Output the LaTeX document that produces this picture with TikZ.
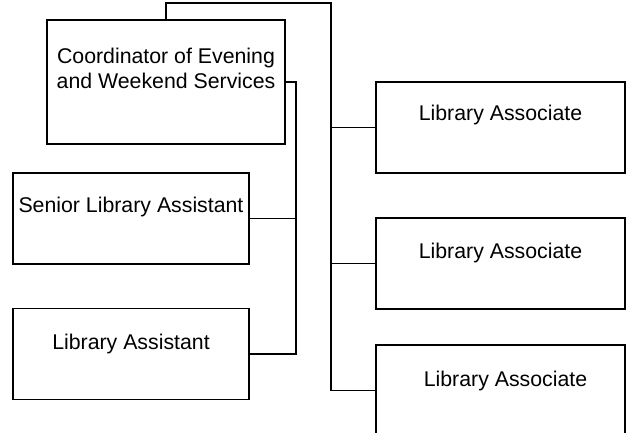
\documentclass[tikz,border=0pt]{standalone}
\usepackage{fontspec}
\setmainfont{Liberation Sans}
\begin{document}
\begin{tikzpicture}[x=1pt,y=-1pt,
  box/.style={draw=black, line width=1.6pt, inner sep=0pt, minimum width=#1},
  lbox/.style={box=236pt, minimum height=91pt},
  rbox/.style={box=249pt, minimum height=91pt},
  txt/.style={anchor=base, inner sep=0pt, font=\fontsize{21.3}{25}\selectfont},
  conn/.style={draw=black, line width=1.1pt}]
\useasboundingbox (0,0) rectangle (626,433);
\clip (0,0) rectangle (626,433);
% boxes
\node[box=238pt, minimum height=124pt] (coord) at (166,82) {};
\node[lbox] (sla) at (131,218.5) {};
\node[lbox] (la) at (131,354) {};
\node[rbox] (la1) at (500.5,127.5) {};
\node[rbox] (la2) at (500.5,263.5) {};
\node[rbox] (la3) at (500.5,390.5) {};
% texts
\node[txt] (t1) at (166,63.5) {Coordinator of Evening};
\node[txt] (t2) at (166,88.5) {and Weekend Services};
\node[txt] (t3) at (131,212) {Senior Library Assistant};
\node[txt] (t4) at (131,349.5) {Library Assistant};
\node[txt] (t5) at (500.5,121) {Library Associate};
\node[txt] (t6) at (500.5,258.5) {Library Associate};
\node[txt] (t7) at (505.5,386) {Library Associate};
% connectors
\coordinate (bustop) at (331,3);
\draw[conn] (coord.north) |- (bustop) -- (bustop |- la3.west) -- (la3.west);
\draw[conn] (bustop |- la1.west) -- (la1.west);
\draw[conn] (bustop |- la2.west) -- (la2.west);
\coordinate (lb) at (296,82);
\draw[conn] (coord.east) -- (lb) |- (la.east);
\draw[conn] (lb |- sla.east) -- (sla.east);
\end{tikzpicture}
\end{document}
